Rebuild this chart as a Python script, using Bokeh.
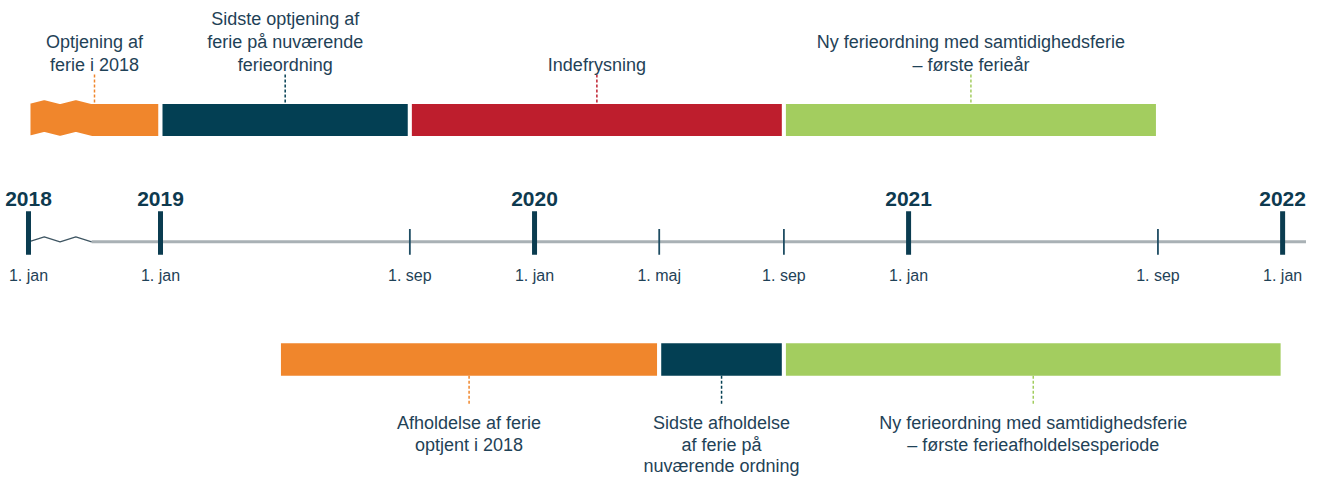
from bokeh.plotting import figure
from bokeh.models import Range1d
from bokeh.embed import file_html
from bokeh.resources import INLINE
from bokeh.core.properties import value

# ---------------- data ----------------
# positions are months counted from 1 jan 2019; 2018 sits on a broken (compressed) stretch
YEAR_LABELS = ["2018", "2019", "2020", "2021", "2022"]
YEAR_POS = [-4.235, 0, 12, 24, 36]
MAJOR_TICK_LABELS = ["1. jan", "1. jan", "1. jan", "1. jan", "1. jan"]
MINOR_POS = [8, 16, 20, 32]
MINOR_LABELS = ["1. sep", "1. maj", "1. sep", "1. sep"]
BREAK_END = -2.21

TOP_START = [-4.235, 0, 8, 20]
TOP_END = [0, 8, 20, 32]
TOP_COLORS = ["#f0862c", "#033f53", "#be1e2d", "#a3cd5f"]
TOP_LABELS = [
    "Optjening af\nferie i 2018",
    "Sidste optjening af\nferie på nuværende\nferieordning",
    "Indefrysning",
    "Ny ferieordning med samtidighedsferie\n– første ferieår",
]

BOT_START = [3.8, 16, 20]
BOT_END = [16, 20, 36]
BOT_COLORS = ["#f0862c", "#033f53", "#a3cd5f"]
BOT_LABELS = [
    "Afholdelse af ferie\noptjent i 2018",
    "Sidste afholdelse\naf ferie på\nnuværende ordning",
    "Ny ferieordning med samtidighedsferie\n– første ferieafholdelsesperiode",
]

# ---------------- layout ----------------
W, H = 1306, 482
PX_PER_MONTH = 31.17
X0 = -160 / PX_PER_MONTH
X1 = X0 + W / PX_PER_MONTH
Y_TOP = 12
Y_BOT = Y_TOP + H / 0.985

FONT = value("Liberation Sans")
TEXT_COLOR = "#1f4257"
DARK = "#0b3c50"

p = figure(width=W, height=H, x_range=Range1d(X0, X1), y_range=Range1d(Y_BOT, Y_TOP),
           output_backend="svg", toolbar_location=None, min_border=0,
           x_axis_location=None, y_axis_location=None)
p.grid.visible = False
p.outline_line_color = None
p.background_fill_color = "white"
p.border_fill_color = "white"

# ---- top bars ----
TB_T, TB_B = 115, 151.5
s, b, e = TOP_START[0], BREAK_END, TOP_END[0]
q = (b - s) / 4
wave_x = [s + i * q for i in range(5)]
top_wave = [TB_T, TB_T - 4, TB_T, TB_T - 4, TB_T]
bot_wave = [TB_B, TB_B - 4, TB_B, TB_B - 4, TB_B]
px = wave_x + [e, e] + wave_x[::-1]
py = top_wave + [TB_T, TB_B] + bot_wave[::-1]
p.patch(px, py, fill_color=TOP_COLORS[0], line_color="white", line_width=4)
p.quad(left=TOP_START[1:], right=TOP_END[1:], top=TB_T, bottom=TB_B,
       fill_color=TOP_COLORS[1:], line_color="white", line_width=4)

# ---- bottom bars ----
BB_T, BB_B = 358, 395
p.quad(left=BOT_START, right=BOT_END, top=BB_T, bottom=BB_B,
       fill_color=BOT_COLORS, line_color="white", line_width=4)

# ---- leaders and labels ----
top_mid = [(a + c) / 2 for a, c in zip(TOP_START, TOP_END)]
bot_mid = [(a + c) / 2 for a, c in zip(BOT_START, BOT_END)]
p.segment(x0=top_mid, y0=87, x1=top_mid, y1=117, line_color=TOP_COLORS,
          line_width=1.5, line_dash="3 2")
p.segment(x0=bot_mid, y0=393, x1=bot_mid, y1=422, line_color=BOT_COLORS,
          line_width=1.5, line_dash="3 2")

tx, ty, tt = [], [], []
for xm, lab in zip(top_mid, TOP_LABELS):
    lines = lab.split("\n")
    n = len(lines)
    for i, ln in enumerate(lines):
        tx.append(xm); ty.append(77 - (n - 1 - i) * 23); tt.append(ln)
for xm, lab in zip(bot_mid, BOT_LABELS):
    for i, ln in enumerate(lab.split("\n")):
        tx.append(xm); ty.append(441 + i * 22); tt.append(ln)
p.text(x=tx, y=ty, text=tt, text_align="center", text_baseline="alphabetic",
       text_font=FONT, text_font_size="18px", text_color=TEXT_COLOR)

# ---- timeline axis ----
p.line(x=[b, X1], y=[257, 257], line_color="#a9b1b5", line_width=3)
p.line(x=wave_x, y=[257, 252, 257, 252, 257], line_color="#3e5562", line_width=1.2)
p.segment(x0=MINOR_POS, y0=244, x1=MINOR_POS, y1=270, line_color="#1f4d63", line_width=1.8)
p.segment(x0=YEAR_POS, y0=226, x1=YEAR_POS, y1=270, line_color=DARK, line_width=5)

p.text(x=YEAR_POS, y=214, text=YEAR_LABELS, text_align="center", text_baseline="alphabetic",
       text_font=FONT, text_font_size="21px", text_font_style="bold", text_color="#0e3a4f")
p.text(x=YEAR_POS + MINOR_POS, y=291, text=MAJOR_TICK_LABELS + MINOR_LABELS,
       text_align="center", text_baseline="alphabetic",
       text_font=FONT, text_font_size="16px", text_color=TEXT_COLOR)

open("out.html", "w").write(file_html(p, INLINE))
